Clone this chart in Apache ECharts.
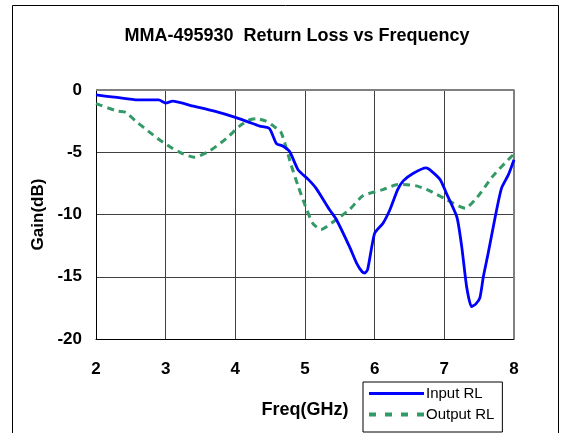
<!DOCTYPE html>
<html>
<head>
<meta charset="utf-8">
<script src="https://cdn.jsdelivr.net/npm/echarts@6/dist/echarts.min.js"></script>
<style>
html,body{margin:0;padding:0;background:#fff;}
#chart{width:563px;height:433px;}
</style>
</head>
<body>
<div id="chart"></div>
<script>
var titleText = 'MMA-495930  Return Loss vs Frequency';
var xTicks = [2, 3, 4, 5, 6, 7, 8];
var yTicks = [0, -5, -10, -15, -20];

var inputFreq = [2.0,2.3,2.6,2.9,3.0,3.1,3.4,3.7,4.0,4.2,4.35,4.49,4.59,4.68,4.78,4.9,5.05,5.16,5.35,5.45,5.64,5.74,5.82,5.86,5.9,6.0,6.12,6.22,6.33,6.41,6.55,6.74,6.79,6.94,7.03,7.18,7.25,7.32,7.39,7.45,7.51,7.56,7.63,7.73,7.82,7.92,8.0];
var inputRL = [-0.4,-0.6,-0.8,-0.8,-1.05,-0.9,-1.3,-1.7,-2.2,-2.6,-2.9,-3.1,-4.3,-4.5,-4.95,-6.4,-7.2,-7.9,-9.6,-10.4,-12.6,-13.9,-14.6,-14.7,-14.4,-11.5,-10.7,-9.6,-8.0,-7.3,-6.7,-6.25,-6.4,-7.2,-8.3,-10.2,-12.6,-15.8,-17.4,-17.2,-16.7,-15.0,-13.1,-10.2,-7.9,-6.8,-5.6];

var outputFreq = [2.0,2.31,2.43,2.57,2.75,2.91,3.1,3.24,3.41,3.63,3.87,4.06,4.2,4.3,4.44,4.55,4.66,4.8,4.9,4.99,5.11,5.23,5.45,5.64,5.83,6.12,6.33,6.41,6.6,6.79,7.03,7.3,7.46,7.7,7.97,8.0];
var outputRL = [-1.1,-1.7,-1.8,-2.5,-3.3,-4.0,-4.7,-5.1,-5.4,-4.9,-3.9,-2.9,-2.4,-2.3,-2.5,-2.9,-3.45,-6.0,-7.7,-9.1,-10.7,-11.2,-10.4,-9.6,-8.5,-8.0,-7.6,-7.6,-7.7,-8.1,-8.8,-9.5,-8.7,-6.9,-5.3,-5.2];

function pairs(xs, ys) { return xs.map(function (x, i) { return [x, ys[i]]; }); }

var chart = echarts.init(document.getElementById('chart'), null, {renderer: 'canvas'});
var font = 'Arial, "Liberation Sans", sans-serif';
chart.setOption({
  animation: false,
  backgroundColor: '#fff',
  textStyle: {fontFamily: font},
  title: {
    text: titleText,
    left: 292, top: 22, textAlign: 'center',
    textStyle: {fontFamily: font, fontWeight: 'bold', fontSize: 18, color: '#000'}
  },
  graphic: [{
    type: 'rect', left: 10, top: 3, z: -1,
    shape: {width: 546, height: 440},
    style: {fill: 'none', stroke: '#000', lineWidth: 1}
  }],
  legend: {
    orient: 'vertical', left: 363, top: 382,
    backgroundColor: '#fff', borderColor: '#000', borderWidth: 1,
    padding: [4, 8, 10, 6], itemGap: 6, itemWidth: 55, itemHeight: 14,
    textStyle: {fontFamily: font, fontSize: 15, color: '#000', padding: [0, 0, 0, -3]},
    data: [
      {name: 'Input RL', icon: 'path://M0,6 L55,6 L55,9 L0,9 Z'},
      {name: 'Output RL', icon: 'path://M0,6 L7,6 L7,10 L0,10 Z M16,6 L23,6 L23,10 L16,10 Z M32,6 L39,6 L39,10 L32,10 Z M48,6 L55,6 L55,10 L48,10 Z'}
    ]
  },
  grid: {left: 96, top: 90, right: 49, bottom: 94, containLabel: false, show: false},
  xAxis: {
    type: 'value', min: 2, max: 8, interval: 1,
    name: 'Freq(GHz)', nameLocation: 'middle', nameGap: 62,
    nameTextStyle: {fontFamily: font, fontWeight: 'bold', fontSize: 18, color: '#000'},
    axisLine: {show: true, onZero: false, lineStyle: {color: '#000', width: 1}},
    axisTick: {show: false},
    axisLabel: {margin: 22, fontFamily: font, fontWeight: 'bold', fontSize: 17, color: '#000',
      formatter: function (v) { return xTicks.indexOf(v) >= 0 ? String(v) : ''; }},
    splitLine: {show: true, lineStyle: {color: '#404040', width: 1}}
  },
  yAxis: {
    type: 'value', min: -20, max: 0, interval: 5,
    name: 'Gain(dB)', nameLocation: 'middle', nameGap: 46, nameRotate: 90,
    nameTextStyle: {fontFamily: font, fontWeight: 'bold', fontSize: 17, color: '#000'},
    axisLine: {show: true, onZero: false, lineStyle: {color: '#000', width: 1}},
    axisTick: {show: false},
    axisLabel: {margin: 14, fontFamily: font, fontWeight: 'bold', fontSize: 17, color: '#000',
      formatter: function (v) { return yTicks.indexOf(v) >= 0 ? String(v) : ''; }},
    splitLine: {show: true, lineStyle: {color: '#404040', width: 1}}
  },
  series: [
    {
      name: 'Input RL', type: 'line', data: pairs(inputFreq, inputRL),
      showSymbol: false, smooth: 0.2, z: 3,
      lineStyle: {color: '#0000ff', width: 2.8},
      itemStyle: {color: '#0000ff'}
    },
    {
      name: 'Output RL', type: 'line', data: pairs(outputFreq, outputRL),
      showSymbol: false, smooth: 0.2, z: 2,
      lineStyle: {color: '#339966', width: 3, type: [7, 5]},
      itemStyle: {color: '#339966'}
    },
    {
      type: 'line', data: [[2, 0], [8, 0], [8, -20]], silent: true,
      showSymbol: false, z: 1, legendHoverLink: false,
      lineStyle: {color: '#808080', width: 2},
      tooltip: {show: false}
    }
  ]
});
</script>
</body>
</html>
